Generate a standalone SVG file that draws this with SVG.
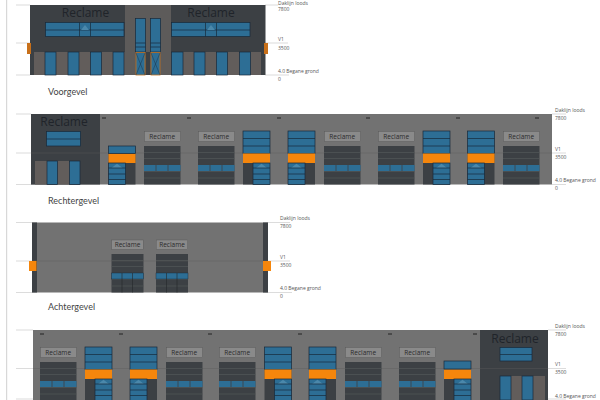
<svg xmlns="http://www.w3.org/2000/svg" xmlns:xlink="http://www.w3.org/1999/xlink" width="600" height="400" viewBox="0 0 600 400">
<style>
text{font-family:"Open Sans","Liberation Sans",sans-serif;fill:#222}
.lv{font-size:5px;fill:#555}
.ti{font-family:"Lato","Open Sans",sans-serif;font-size:9px;fill:#444}
.big{font-size:12px;text-anchor:middle;fill:#20242a}
.sg{font-size:6.500px;text-anchor:middle;fill:#2a2a2a}
.dk{fill:#3c4044}
.wall{fill:#727272}
.bl{fill:#2d6e95;stroke:#17293a;stroke-width:.7}
.or{fill:#f5860c}
.br{fill:#625d5b}
.ln{stroke:#17293a;stroke-width:.7;fill:none}
.lvl{stroke:#c4c4c4;stroke-width:.6;fill:none}
.lvd{stroke:#5c5c5c;stroke-width:.4;fill:none}
.dash{stroke:#222;stroke-width:1;fill:none}
</style>
<defs>
<g id="door">
<rect x=".5" y="-14.500" width="36" height="10" fill="#8a8a8a" stroke="#555" stroke-width=".4"/>
<text class="sg" x="18.200" y="-7">Reclame</text>
<rect width="36.500" height="38.500" class="dk"/>
<path d="M0 6.500H36.500M0 12.500H36.500M0 25.500H36.500M0 32H36.500" stroke="#565a5c" stroke-width=".6"/>
<rect y="19" width="36.500" height="6" fill="#2d6e95"/>
<path d="M12 19V25M24 19V25" stroke="#3c4044" stroke-width=".8"/>
</g>
<g id="doorb">
<rect x=".2" y="-14" width="31.500" height="9.500" fill="#8a8a8a" stroke="#555" stroke-width=".4"/>
<text class="sg" x="16" y="-7">Reclame</text>
<rect width="32" height="38.500" class="dk"/>
<path d="M0 6.500H32M0 12.500H32M0 25.500H32M0 32H32" stroke="#565a5c" stroke-width=".6"/>
<rect y="19" width="32" height="6" fill="#2d6e95" stroke="#17293a" stroke-width=".4"/>
<path d="M10.500 19V38.500M21 19V38.500" stroke="#23272a" stroke-width=".6"/>
</g>
<g id="win">
<rect width="17" height="21.500" class="bl"/>
<path d="M3 5L8.500 .8L14 5Z" fill="#4b88ab"/>
<path d="M0 5H17M0 11H17M0 16.500H17" class="ln"/>
</g>
<g id="upper">
<rect width="27" height="22.500" class="bl"/>
<path d="M0 7.500H27M0 15H27" class="ln"/>
</g>
<g id="lowL">
<rect y="22.500" width="27" height="31" class="dk"/>
<rect y="22.500" width="27" height="9.500" class="or"/>
<use href="#win" xlink:href="#win" y="32"/>
</g>
<g id="lowR">
<rect y="22.500" width="27" height="31" class="dk"/>
<rect y="22.500" width="27" height="9.500" class="or"/>
<use href="#win" xlink:href="#win" x="10" y="32"/>
</g>
<g id="talldw"><use href="#upper" xlink:href="#upper"/><use href="#lowL" xlink:href="#lowL"/></g>
<g id="tallwd"><use href="#upper" xlink:href="#upper"/><use href="#lowR" xlink:href="#lowR"/></g>
</defs>
<rect width="600" height="400" fill="#fff"/>
<rect x="6" width="1.200" height="400" fill="#d8d8d8"/>

<g id="connectors">
<path class="lvl" d="M16 5H30M16 43H30M16 75H30M16 114H31M16 153H31M16 184.500H31M16 222.500H32M16 261H32M16 292.500H32M16 330H33M16 368.500H33M16 399H33"/>
<path class="lvl" d="M265 5H278M265 43H288M265 75H289M552 153H566M552 184.500H566M552 114H566M268 222.500H290M268 261H290M268 292.500H292M548 330H566M548 368.500H566M548 399H566"/>
</g>

<g id="voorgevel">
<rect x="30" y="5" width="235.500" height="70" class="dk"/>
<rect x="125" y="5" width="46" height="70" fill="#5d5b5a"/>
<rect x="34" y="52" width="91" height="23" class="br"/>
<rect x="171" y="52" width="90" height="23" class="br"/>
<text class="big" x="85.500" y="17">Reclame</text>
<text class="big" x="211" y="17">Reclame</text>
<rect x="45.500" y="22.500" width="78.500" height="14" class="bl"/><path class="ln" d="M45.500 30H124M79.500 22.500V36.500M90.500 22.500V36.500"/><path d="M81 30L85 25L89 30Z" fill="#4b88ab"/>
<rect x="171.500" y="22.500" width="78.500" height="14" class="bl"/><path class="ln" d="M171.500 30H250M205.500 22.500V36.500M216.500 22.500V36.500"/><path d="M207 30L211 25L215 30Z" fill="#4b88ab"/>
<rect x="45" y="52" width="11" height="23" class="bl"/><rect x="68" y="52" width="11" height="23" class="bl"/><rect x="90.500" y="52" width="11" height="23" class="bl"/><rect x="113" y="52" width="11" height="23" class="bl"/>
<rect x="171.500" y="52" width="11.500" height="23" class="bl"/><rect x="194" y="52" width="11" height="23" class="bl"/><rect x="216.500" y="52" width="11" height="23" class="bl"/><rect x="239.500" y="52" width="11" height="23" class="bl"/>
<rect x="135.500" y="18.500" width="10" height="33.500" class="bl"/><rect x="150.500" y="18.500" width="10" height="33.500" class="bl"/>
<path class="ln" d="M135.500 43H145.500M150.500 43H160.500M135.500 47H145.500M150.500 47H160.500"/>
<rect x="145.500" y="52" width="5" height="23" class="dk"/>
<rect x="136" y="52.500" width="9" height="22.500" fill="#2d6e95" stroke="#c2701e" stroke-width=".8"/><rect x="151" y="52.500" width="9" height="22.500" fill="#2d6e95" stroke="#c2701e" stroke-width=".8"/>
<path d="M136 53L145 75M145 53L136 75M151 53L160 75M160 53L151 75" stroke="#17293a" stroke-width=".4" fill="none"/>
<rect x="27" y="43" width="4" height="11" fill="#c8701a"/><rect x="264" y="43" width="4" height="11" fill="#c8701a"/>
</g>
<g id="voorgevel-labels">
<text class="lv" x="278" y="4.500">Daklijn loods</text><text class="lv" x="278" y="11">7800</text>
<text class="lv" x="278" y="41">V1</text><text class="lv" x="278" y="50">3500</text>
<text class="lv" x="278" y="73">4.0 Begane grond</text><text class="lv" x="278" y="81">0</text>
<text class="ti" x="48" y="95">Voorgevel</text>
</g>

<g id="rechtergevel">
<rect x="31" y="114" width="521" height="70.500" class="wall"/>
<rect x="31" y="114" width="69" height="70.500" class="dk"/>
<text class="big" x="64" y="126">Reclame</text>
<rect x="46.500" y="131.500" width="34" height="14.500" class="bl"/><path class="ln" d="M46.500 139H80.500"/>
<rect x="35" y="161" width="45" height="23.500" class="br"/>
<rect x="47" y="161" width="10.500" height="23.500" class="bl"/><rect x="69.500" y="161" width="10.500" height="23.500" class="bl"/>
<path class="dash" d="M102 118H106M187 118H191M277 118H281M366 118H370M456 118H460M535 118H539"/>
<path class="lvd" d="M31 153H552"/>
<use href="#lowL" xlink:href="#lowL" transform="translate(108.500 131)"/><rect x="108.500" y="146" width="27" height="7.500" class="bl"/>
<use href="#door" xlink:href="#door" x="144" y="146"/><use href="#door" xlink:href="#door" x="198" y="146"/>
<use href="#tallwd" xlink:href="#tallwd" x="243" y="131"/><use href="#talldw" xlink:href="#talldw" x="288" y="131"/>
<use href="#door" xlink:href="#door" x="324" y="146"/><use href="#door" xlink:href="#door" x="378" y="146"/>
<use href="#tallwd" xlink:href="#tallwd" x="423" y="131"/><use href="#talldw" xlink:href="#talldw" x="467.500" y="131"/>
<use href="#door" xlink:href="#door" x="503" y="146"/>
</g>
<g id="rechtergevel-labels">
<text class="lv" x="555" y="112">Daklijn loods</text><text class="lv" x="555" y="120">7800</text>
<text class="lv" x="555" y="151">V1</text><text class="lv" x="555" y="159">3500</text>
<text class="lv" x="555" y="182">4.0 Begane grond</text><text class="lv" x="555" y="190">0</text>
<text class="ti" x="48" y="204">Rechtergevel</text>
</g>

<g id="achtergevel">
<rect x="32" y="222.500" width="236" height="70" class="wall"/>
<rect x="32" y="222.500" width="5" height="70" class="dk"/><rect x="263" y="222.500" width="5" height="70" class="dk"/>
<use href="#doorb" xlink:href="#doorb" x="111.500" y="254"/>
<use href="#doorb" xlink:href="#doorb" x="156" y="254"/>
<path class="lvd" d="M32 261H268"/>
<rect x="29" y="261" width="7.500" height="10" class="or"/><rect x="263" y="261" width="8" height="10" class="or"/>
</g>
<g id="achtergevel-labels">
<text class="lv" x="280" y="220">Daklijn loods</text><text class="lv" x="280" y="228">7800</text>
<text class="lv" x="280" y="259">V1</text><text class="lv" x="280" y="267">3500</text>
<text class="lv" x="280" y="290">4.0 Begane grond</text><text class="lv" x="280" y="298">0</text>
<text class="ti" x="48" y="310">Achtergevel</text>
</g>

<g id="linkergevel">
<rect x="33" y="330" width="515" height="70" class="wall"/>
<rect x="480" y="330" width="68" height="70" class="dk"/>
<text class="big" x="515" y="343">Reclame</text>
<rect x="500" y="347.500" width="32" height="13.500" class="bl"/><path class="ln" d="M500 354.500H532"/>
<rect x="500" y="376" width="45" height="24" class="br"/>
<rect x="500" y="376" width="11" height="24" class="bl"/><rect x="522" y="376" width="11" height="24" class="bl"/>
<path class="dash" d="M40 334H44M119 334H123M208 334H212M298 334H302M388 334H392M473 334H477"/>
<path class="lvd" d="M33 368.500H548"/>
<use href="#door" xlink:href="#door" x="40" y="362"/>
<use href="#tallwd" xlink:href="#tallwd" x="85" y="347"/><use href="#talldw" xlink:href="#talldw" x="130" y="347"/>
<use href="#door" xlink:href="#door" x="166" y="362"/><use href="#door" xlink:href="#door" x="219" y="362"/>
<use href="#tallwd" xlink:href="#tallwd" x="264.500" y="347"/><use href="#talldw" xlink:href="#talldw" x="309" y="347"/>
<use href="#door" xlink:href="#door" x="345" y="362"/><use href="#door" xlink:href="#door" x="399" y="362"/>
<use href="#lowR" xlink:href="#lowR" transform="translate(444 347)"/><rect x="444" y="361" width="27" height="8" class="bl"/>
</g>
<g id="linkergevel-labels">
<text class="lv" x="555" y="328">Daklijn loods</text><text class="lv" x="555" y="336">7800</text>
<text class="lv" x="555" y="366">V1</text><text class="lv" x="555" y="374">3500</text>
<text class="lv" x="555" y="398">4.0 Begane grond</text>
</g>
</svg>
